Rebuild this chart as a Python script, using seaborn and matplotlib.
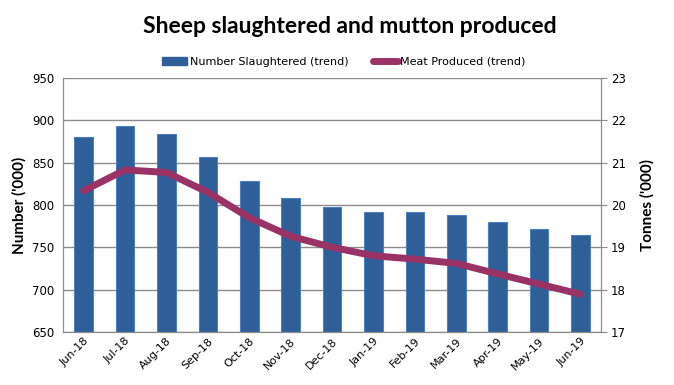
import matplotlib
matplotlib.use("Agg")
import matplotlib.pyplot as plt
import seaborn as sns
import pandas as pd
from matplotlib.patches import Patch
from matplotlib.lines import Line2D

months = ["Jun-18", "Jul-18", "Aug-18", "Sep-18", "Oct-18", "Nov-18", "Dec-18",
          "Jan-19", "Feb-19", "Mar-19", "Apr-19", "May-19", "Jun-19"]
slaughtered = [880, 894, 884, 857, 828, 808, 798, 792, 792, 788, 780, 772, 764]
meat = [20.34, 20.83, 20.77, 20.3, 19.7, 19.26, 19.0, 18.8, 18.72, 18.62, 18.37, 18.13, 17.89]

df = pd.DataFrame({"month": months, "number": slaughtered, "meat": meat})

sns.set_style("white")
plt.rcParams["font.family"] = ["DejaVu Sans"]
plt.rcParams["text.color"] = "black"
plt.rcParams["axes.labelcolor"] = "black"
plt.rcParams["xtick.color"] = "black"
plt.rcParams["ytick.color"] = "black"

bar_color = "#2E5F99"
line_color = "#993366"
grid_color = "#8C8C8C"

fig = plt.figure(figsize=(6.74, 3.85), dpi=100)
ax = fig.add_axes([0.0935, 0.138, 0.7985, 0.659])

sns.barplot(data=df, x="month", y="number", color=bar_color, width=0.45,
            edgecolor="#4F81BD", linewidth=0.8, saturation=1, ax=ax, zorder=2)
ax.set_ylim(650, 950)
ax.set_yticks(range(650, 951, 50))
ax.yaxis.grid(True, color=grid_color, linewidth=1)
ax.set_axisbelow(True)
ax.set_xlabel("")
ax.set_ylabel("Number ('000)", fontsize=11, fontweight="bold", family="Lato")
ax.tick_params(axis="y", length=0, labelsize=8.5, pad=6)
ax.tick_params(axis="x", length=0, labelsize=8, pad=3)
for lab in ax.get_xticklabels():
    lab.set_rotation(45)
    lab.set_ha("right")
    lab.set_rotation_mode("anchor")
for s in ["left", "bottom", "right", "top"]:
    ax.spines[s].set_color(grid_color)
ax.spines["top"].set_visible(False)

ax2 = ax.twinx()
sns.pointplot(data=df, x="month", y="meat", color=line_color, marker="",
              linewidth=5, errorbar=None, ax=ax2)
ax2.set_ylim(17, 23)
ax2.set_yticks(range(17, 24))
ax2.set_xlabel("")
ax2.set_ylabel("Tonnes ('000)", fontsize=11, fontweight="bold", family="Lato",
               rotation=90, labelpad=10)
ax2.tick_params(axis="y", length=4, color=grid_color, labelsize=8.5, pad=3)
for s in ["left", "bottom", "right", "top"]:
    ax2.spines[s].set_color(grid_color)
ax2.spines["top"].set_visible(False)

fig.text(0.519, 0.932, "Sheep slaughtered and mutton produced", ha="center", va="center",
         fontsize=16.5, fontweight="bold", family="Lato")

handles = [Patch(facecolor=bar_color, edgecolor=bar_color),
           Line2D([0], [0], color=line_color, linewidth=5, solid_capstyle="round")]
fig.legend(handles, ["Number Slaughtered (trend)", "Meat Produced (trend)"],
           loc="center", bbox_to_anchor=(0.51, 0.84), ncol=2, frameon=False,
           fontsize=8, handlelength=2.3, handleheight=0.8, handletextpad=0.2,
           columnspacing=2.2)

fig.savefig("out.png", dpi=100)
